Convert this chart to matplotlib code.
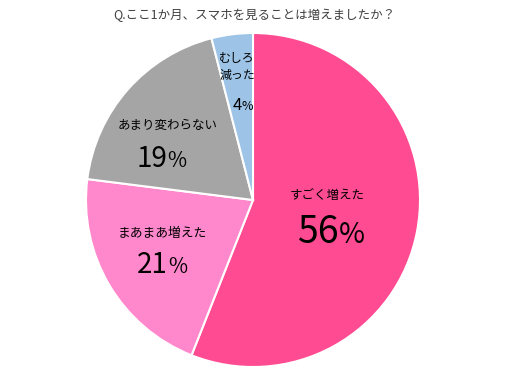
import matplotlib
matplotlib.use('Agg')
import matplotlib.pyplot as plt

plt.rcParams['font.family'] = ['Noto Sans CJK JP', 'DejaVu Sans']

# データ
title = 'Q.ここ1か月、スマホを見ることは増えましたか？'
labels = ['すごく増えた', 'まあまあ増えた', 'あまり変わらない', 'むしろ\n減った']
values = [56, 21, 19, 4]
colors = ['#FF4B91', '#FF88CC', '#A5A5A5', '#9DC3E6']

W, H = 507, 375
fig = plt.figure(figsize=(W / 100, H / 100), dpi=100)
cx, cy, R = 253, 200, 167  # 円の中心と半径（ピクセル）
ax = fig.add_axes([(cx - R) / W, (H - cy - R) / H, 2 * R / W, 2 * R / H])
ax.pie(values, colors=colors, startangle=90, counterclock=False, radius=1,
       wedgeprops=dict(edgecolor='white', linewidth=1.5))
ax.set_xlim(-1, 1)
ax.set_ylim(-1, 1)
ax.set_aspect('equal')
ax.axis('off')


def px(x, y):  # ピクセル -> データ座標
    return (x - cx) / R, (cy - y) / R


# ラベル位置（ピクセル）、数字の位置（数字と%の境目, ベースライン）、サイズ
label_pos = [(327, 195), (162, 233), (168, 125), (237, 67)]
num_pos = [(339, 243), (168, 273), (167, 167), (242, 110)]
num_size = [27, 20, 20, 12]
label_size = [9, 9.2, 9, 8.6]

for i in range(len(values)):
    x, y = px(*label_pos[i])
    ax.text(x, y, labels[i], ha='center', va='center', fontsize=label_size[i],
            linespacing=1.45, color='black')
    nx, ny = px(*num_pos[i])
    ax.text(nx, ny, str(values[i]), ha='right', va='baseline',
            fontsize=num_size[i], color='black')
    ax.text(nx, ny, '%', ha='left', va='baseline',
            fontsize=num_size[i] * 0.75, color='black')

fig.text(254 / W, 1 - 15 / H, title, ha='center', va='center', fontsize=9, color='#404040')

plt.savefig('out.png', dpi=100)
